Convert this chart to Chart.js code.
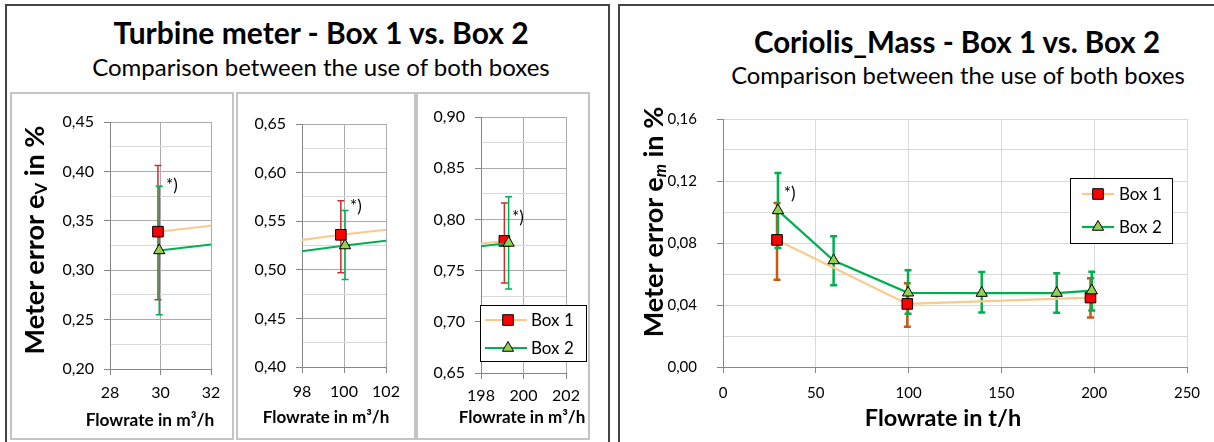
<!DOCTYPE html>
<html>
<head>
<meta charset="utf-8">
<script src="https://cdn.jsdelivr.net/npm/chart.js@4.4.1/dist/chart.umd.min.js"></script>
<style>
  html, body { margin:0; padding:0; background:#fff; }
  body { width:1214px; height:442px; overflow:hidden; position:relative; font-family:Lato, "Open Sans", sans-serif; color:#000; }
  .frame { position:absolute; box-sizing:border-box; border:2px solid #444; }
  .sub { position:absolute; box-sizing:border-box; border:2px solid #c4c4c4; }
  canvas { position:absolute; }
  .txt { position:absolute; white-space:nowrap; text-align:center; z-index:5; }
  .xt { position:absolute; white-space:nowrap; text-align:center; z-index:5; font-weight:bold; width:300px; height:30px; line-height:30px; }
  .rot { position:absolute; white-space:nowrap; text-align:center; transform:rotate(-90deg); font-weight:bold; z-index:5; }
  .rot sub { font-size:0.62em; vertical-align:-0.18em; line-height:0; }
</style>
</head>
<body>
<div class="frame" style="left:5px;top:4px;width:605px;height:450px;"></div>
<div class="frame" style="left:618px;top:4px;width:620px;height:450px;"></div>
<div class="sub" style="left:10px;top:92px;width:224px;height:348px;"></div>
<div class="sub" style="left:236px;top:92px;width:180px;height:348px;"></div>
<div class="sub" style="left:416px;top:92px;width:174px;height:348px;"></div>

<div class="txt" style="left:21px;width:600px;top:13px;height:38px;line-height:38px;font-size:30px;font-weight:bold;">Turbine meter - Box 1 vs. Box 2</div>
<div class="txt" style="left:21px;width:600px;top:52px;height:30px;line-height:30px;font-size:24px;">Comparison between the use of both boxes</div>
<div class="txt" style="left:707px;width:500px;top:23px;height:38px;line-height:38px;font-size:29.5px;font-weight:bold;">Coriolis_Mass - Box 1 vs. Box 2</div>
<div class="txt" style="left:708px;width:500px;top:60px;height:30px;line-height:30px;font-size:23.8px;">Comparison between the use of both boxes</div>

<div class="rot" style="left:-116px;top:224px;width:300px;height:32px;line-height:32px;font-size:27px;">Meter error e<sub>V</sub> in %</div>
<div class="rot" style="left:503px;top:206px;width:300px;height:32px;line-height:32px;font-size:27px;">Meter error e<sub><i>m</i></sub> in %</div>

<div class="xt" style="left:0px;top:405px;font-size:17.3px;">Flowrate in m³/h</div>
<div class="xt" style="left:176px;top:402px;font-size:17px;">Flowrate in m³/h</div>
<div class="xt" style="left:372px;top:402px;font-size:17px;">Flowrate in m³/h</div>
<div class="xt" style="left:793px;top:402px;font-size:23.5px;">Flowrate in t/h</div>

<canvas id="t1" width="222" height="346" style="left:11px;top:93px;width:222px;height:346px;"></canvas>
<canvas id="t2" width="178" height="346" style="left:237px;top:93px;width:178px;height:346px;"></canvas>
<canvas id="t3" width="172" height="346" style="left:417px;top:93px;width:172px;height:346px;"></canvas>
<canvas id="cm" width="595" height="352" style="left:619px;top:90px;width:595px;height:352px;"></canvas>

<script>
// ---------------- DATA ----------------
// Turbine meter (same data shown in three zoomed sub-panels)
const turbineFlowBox1 = [29.9, 99.85, 199.1];
const turbineErrBox1  = [0.339, 0.536, 0.779];
const turbineLowBox1  = [0.270, 0.497, 0.738];
const turbineHighBox1 = [0.406, 0.571, 0.816];
const turbineFlowBox2 = [29.95, 100.05, 199.3];
const turbineErrBox2  = [0.320, 0.525, 0.777];
const turbineLowBox2  = [0.255, 0.490, 0.732];
const turbineHighBox2 = [0.385, 0.561, 0.822];
const turbineNoteFlow = [30.22, 100.29, 199.46];
const turbineNoteErr  = [0.386, 0.5646, 0.8014];

const turbineXTicks = [[28, 30, 32], [98, 100, 102], [198, 200, 202]];
const turbineYTicks = [
  [0.20, 0.25, 0.30, 0.35, 0.40, 0.45],
  [0.40, 0.45, 0.50, 0.55, 0.60, 0.65],
  [0.65, 0.70, 0.75, 0.80, 0.85, 0.90]
];

// Coriolis mass meter
const coriolisFlowBox1 = [29.1, 99.3, 198.0];
const coriolisErrBox1  = [0.082, 0.0407, 0.0448];
const coriolisLowBox1  = [0.0563, 0.026, 0.032];
const coriolisHighBox1 = [0.1058, 0.054, 0.0573];
const coriolisFlowBox2 = [29.6, 59.6, 99.7, 139.4, 179.8, 198.7];
const coriolisErrBox2  = [0.101, 0.0687, 0.0479, 0.0477, 0.0477, 0.0493];
const coriolisLowBox2  = [0.0768, 0.0528, 0.0344, 0.0352, 0.035, 0.0364];
const coriolisHighBox2 = [0.1251, 0.0844, 0.0624, 0.0613, 0.0605, 0.0615];
const coriolisNoteFlow = [32.7];
const coriolisNoteErr  = [0.112];

const coriolisXTicks = [0, 50, 100, 150, 200, 250];
const coriolisYTicks = [0.00, 0.04, 0.08, 0.12, 0.16];

const seriesLabels = ['Box 1', 'Box 2'];
const noteText = '*)';

// ---------------- HELPERS ----------------
const FONT = 'Lato';
const fmtComma = v => v.toFixed(2).replace('.', ',');
const withMinor = majors => {
  const out = [];
  majors.forEach((v, i) => {
    out.push({ value: v, minor: false });
    if (i < majors.length - 1) out.push({ value: (v + majors[i + 1]) / 2, minor: true });
  });
  return out;
};
const pts = (xs, ys) => xs.map((x, i) => ({ x: x, y: ys[i] }));

const errorBarPlugin = {
  id: 'errorBars',
  beforeDatasetsDraw(chart) {
    const { ctx, chartArea, scales } = chart;
    ctx.save();
    ctx.beginPath();
    ctx.rect(chartArea.left, chartArea.top - 6, chartArea.right - chartArea.left, chartArea.bottom - chartArea.top + 12);
    ctx.clip();
    chart.data.datasets.forEach(ds => {
      if (!ds.errLow) return;
      ctx.strokeStyle = ds.errColor;
      ctx.lineWidth = ds.errWidth;
      ds.data.forEach((p, i) => {
        if (p.x < scales.x.min || p.x > scales.x.max) return;
        const px = scales.x.getPixelForValue(p.x);
        const y1 = scales.y.getPixelForValue(ds.errLow[i]);
        const y2 = scales.y.getPixelForValue(ds.errHigh[i]);
        ctx.beginPath();
        ctx.moveTo(px, y1); ctx.lineTo(px, y2);
        ctx.moveTo(px - ds.capHalf, y1); ctx.lineTo(px + ds.capHalf, y1);
        ctx.moveTo(px - ds.capHalf, y2); ctx.lineTo(px + ds.capHalf, y2);
        ctx.stroke();
      });
    });
    ctx.restore();
  }
};

const notePlugin = {
  id: 'notes',
  afterDatasetsDraw(chart, args, opts) {
    if (!opts || !opts.xs) return;
    const { ctx, scales } = chart;
    ctx.save();
    ctx.fillStyle = '#000';
    ctx.font = opts.size + 'px ' + FONT;
    ctx.textAlign = 'left';
    ctx.textBaseline = 'middle';
    opts.xs.forEach((x, i) => {
      if (x < scales.x.min || x > scales.x.max) return;
      ctx.fillText(noteText, scales.x.getPixelForValue(x), scales.y.getPixelForValue(opts.ys[i]));
    });
    ctx.restore();
  }
};

const legendPlugin = {
  id: 'boxLegend',
  afterDraw(chart, args, o) {
    if (!o || !o.show) return;
    const { ctx, chartArea } = chart;
    const x0 = chartArea.left + o.dx, y0 = chartArea.top + o.dy;
    ctx.save();
    ctx.fillStyle = '#fff';
    ctx.fillRect(x0, y0, o.w, o.h);
    ctx.strokeStyle = '#000';
    ctx.lineWidth = 1;
    ctx.strokeRect(x0 + 0.5, y0 + 0.5, o.w - 1, o.h - 1);
    [0, 1].forEach((di, row) => {
      const ds = chart.data.datasets[di];
      const cy = y0 + o.rows[row];
      ctx.strokeStyle = ds.borderColor;
      ctx.lineWidth = ds.borderWidth;
      ctx.beginPath();
      ctx.moveTo(x0 + o.l0, cy); ctx.lineTo(x0 + o.l1, cy);
      ctx.stroke();
      ctx.fillStyle = ds.pointBackgroundColor;
      ctx.strokeStyle = ds.pointBorderColor;
      ctx.lineWidth = ds.pointBorderWidth;
      Chart.helpers.drawPoint(ctx, { pointStyle: ds.pointStyle, radius: ds.pointRadius, rotation: 0, borderWidth: ds.pointBorderWidth }, x0 + o.mx, cy);
      ctx.fillStyle = '#000';
      ctx.font = o.size + 'px ' + FONT;
      ctx.textAlign = 'left';
      ctx.textBaseline = 'middle';
      ctx.fillText(ds.label, x0 + o.tx, cy + 1);
    });
    ctx.restore();
  }
};

// ---------------- STYLE ----------------
const BOX1_LINE = '#FBC98B';
const BOX1_FILL = '#FF0000';
const BOX2_LINE = '#00B050';
const BOX2_FILL = '#92D050';
const AXIS = '#868686';

function datasets(f1, e1, l1, h1, f2, e2, l2, h2, err1Color, errW, cap, lw) {
  return [
    { label: seriesLabels[0], data: pts(f1, e1), showLine: true, borderColor: BOX1_LINE, borderWidth: lw,
      pointStyle: 'rect', pointRadius: 7.5, pointBackgroundColor: BOX1_FILL, pointBorderColor: '#000', pointBorderWidth: 1,
      order: 1, errLow: l1, errHigh: h1, errColor: err1Color, errWidth: errW, capHalf: cap },
    { label: seriesLabels[1], data: pts(f2, e2), showLine: true, borderColor: BOX2_LINE, borderWidth: lw,
      pointStyle: 'triangle', pointRadius: 6.5, pointBackgroundColor: BOX2_FILL, pointBorderColor: '#000', pointBorderWidth: 1,
      order: 0, errLow: l2, errHigh: h2, errColor: BOX2_LINE, errWidth: errW, capHalf: cap }
  ];
}

function build(id, cfg) {
  const yAll = withMinor(cfg.yTicks);
  return new Chart(document.getElementById(id), {
    type: 'scatter',
    data: { datasets: cfg.datasets },
    options: {
      responsive: false, animation: false, devicePixelRatio: 1, events: [],
      layout: { padding: { left: 0, right: cfg.padR, top: cfg.padT, bottom: 0 } },
      plugins: {
        legend: { display: false }, tooltip: { enabled: false },
        notes: cfg.notes, boxLegend: cfg.legend
      },
      scales: {
        x: {
          type: 'linear', min: cfg.xTicks[0], max: cfg.xTicks[cfg.xTicks.length - 1],
          afterBuildTicks: s => { s.ticks = cfg.xTicks.map(v => ({ value: v })); },
          afterFit: s => { s.height = cfg.hx; },
          ticks: { autoSkip: false, maxRotation: 0, color: '#000', padding: cfg.xPad,
                   font: { family: FONT, size: cfg.tickSize }, callback: v => String(v) },
          grid: { color: cfg.vGrid, tickLength: 6, tickColor: AXIS, lineWidth: 1 },
          border: { color: AXIS, width: 1 },
          title: { display: false }
        },
        y: {
          type: 'linear', min: cfg.yTicks[0], max: cfg.yTicks[cfg.yTicks.length - 1],
          afterBuildTicks: s => { s.ticks = yAll.map(t => ({ value: t.value, minor: t.minor })); },
          afterFit: s => { s.width = cfg.wy; },
          ticks: { autoSkip: false, color: '#000', padding: cfg.yPad,
                   font: { family: FONT, size: cfg.tickSize },
                   callback: (v, i, ticks) => ticks[i].minor ? '' : fmtComma(v) },
          grid: {
            color: c => (c.tick && c.tick.minor) ? cfg.minorGrid : cfg.majorGrid,
            tickColor: c => (c.tick && c.tick.minor) ? 'rgba(0,0,0,0)' : AXIS,
            tickLength: 6, lineWidth: 1
          },
          border: { color: AXIS, width: 1 }
        }
      }
    },
    plugins: [errorBarPlugin, notePlugin, legendPlugin]
  });
}

// ---------------- TURBINE PANELS ----------------
const panelLayout = [
  { id: 't1', padR: 22, padT: 29, hx: 70, wy: 99, xPad: 8 },
  { id: 't2', padR: 29, padT: 31, hx: 72, wy: 65, xPad: 9 },
  { id: 't3', padR: 23, padT: 24, hx: 66, wy: 64, xPad: 7 }
];
panelLayout.forEach((p, k) => {
  build(p.id, Object.assign({}, p, {
    datasets: datasets(turbineFlowBox1, turbineErrBox1, turbineLowBox1, turbineHighBox1,
                       turbineFlowBox2, turbineErrBox2, turbineLowBox2, turbineHighBox2,
                       '#C9302C', 1.5, 3.5, 2),
    xTicks: turbineXTicks[k], yTicks: turbineYTicks[k],
    tickSize: 16, yPad: 10,
    vGrid: '#ABABAB', majorGrid: '#ABABAB', minorGrid: '#D9D9D9',
    notes: { xs: turbineNoteFlow, ys: turbineNoteErr, size: 17 },
    legend: k === 2 ? { show: true, dx: -1, dy: 188, w: 107, h: 57, rows: [15, 43], l0: 5, l1: 47, mx: 28, tx: 51, size: 17 } : { show: false }
  }));
});

// ---------------- CORIOLIS ----------------
build('cm', {
  padR: 27, padT: 16, hx: 75, wy: 104, xPad: 11,
  datasets: datasets(coriolisFlowBox1, coriolisErrBox1, coriolisLowBox1, coriolisHighBox1,
                     coriolisFlowBox2, coriolisErrBox2, coriolisLowBox2, coriolisHighBox2,
                     '#C55A11', 2.5, 3.5, 2.25),
  xTicks: coriolisXTicks, yTicks: coriolisYTicks,
  tickSize: 15, yPad: 20,
  vGrid: '#D9D9D9', majorGrid: '#D9D9D9', minorGrid: '#D9D9D9',
  notes: { xs: coriolisNoteFlow, ys: coriolisNoteErr, size: 17 },
  legend: { show: true, dx: 347, dy: 59, w: 103, h: 66, rows: [16, 49], l0: 12, l1: 44, mx: 28, tx: 49, size: 17 }
});
</script>
</body>
</html>
